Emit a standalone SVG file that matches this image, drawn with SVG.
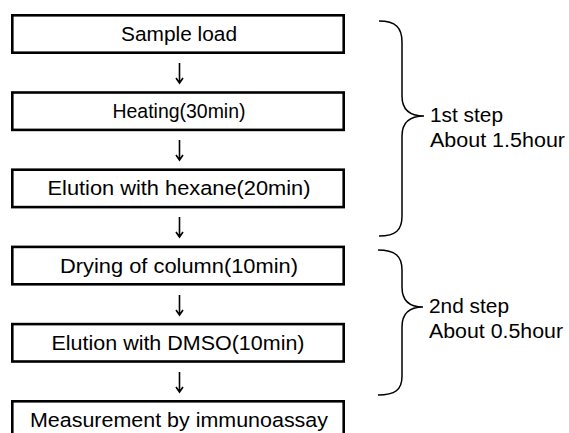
<svg xmlns="http://www.w3.org/2000/svg" width="569" height="433" viewBox="0 0 569 433">
<style>
.box{fill:#fff;stroke:#000;stroke-width:2.6}
.t{font-family:"Liberation Sans",Arial,sans-serif;font-size:20.5px;fill:#000}
.c{text-anchor:middle}
.arr{stroke:#000;stroke-width:1.6;fill:none}
.br{stroke:#000;stroke-width:1.5;fill:none}
</style>
<rect width="569" height="433" fill="#fff"/>
<g id="connectors">
<g class="arr">
<path d="M179.5,63 V82 M176,78 L179.5,83 L183,78"/>
<path d="M179.5,140 V159 M176,155 L179.5,160 L183,155"/>
<path d="M179.5,217 V236 M176,232 L179.5,237 L183,232"/>
<path d="M179.5,295 V314 M176,310 L179.5,315 L183,310"/>
<path d="M179.5,372 V391 M176,387 L179.5,392 L183,387"/>
</g>
</g>
<g id="n1"><rect class="box" x="12.3" y="15.3" width="331.4" height="37.4"/><text class="t c" x="179" y="41" textLength="116" lengthAdjust="spacingAndGlyphs">Sample load</text></g>
<g id="n2"><rect class="box" x="12.3" y="92.5" width="331.4" height="37.4"/><text class="t c" x="179" y="118.2" textLength="133" lengthAdjust="spacingAndGlyphs">Heating(30min)</text></g>
<g id="n3"><rect class="box" x="12.3" y="169.7" width="331.4" height="37.4"/><text class="t c" x="179" y="195.4" textLength="263" lengthAdjust="spacingAndGlyphs">Elution with hexane(20min)</text></g>
<g id="n4"><rect class="box" x="12.3" y="246.9" width="331.4" height="37.4"/><text class="t c" x="179" y="272.6" textLength="238" lengthAdjust="spacingAndGlyphs">Drying of column(10min)</text></g>
<g id="n5"><rect class="box" x="12.3" y="324.1" width="331.4" height="37.4"/><text class="t c" x="178" y="349.8" textLength="253" lengthAdjust="spacingAndGlyphs">Elution with DMSO(10min)</text></g>
<g id="n6"><rect class="box" x="12.3" y="401.3" width="331.4" height="37.4"/><text class="t c" x="179" y="427" textLength="298" lengthAdjust="spacingAndGlyphs">Measurement by immunoassay</text></g>
<g id="step1">
<path class="br" d="M379,21 C396,21 402,28 402,42 V96 C402,110 410,116 424,116 C410,116 402,122 402,136 V216 C402,230 396,236 379,236"/>
<text class="t" x="430" y="122" textLength="73" lengthAdjust="spacingAndGlyphs">1st step</text>
<text class="t" x="430" y="147" textLength="135" lengthAdjust="spacingAndGlyphs">About 1.5hour</text>
</g>
<g id="step2">
<path class="br" d="M378,250 C395,250 402,256 402,270 V287 C402,301 409,307 423,307 C409,307 402,313 402,327 V376 C402,390 395,395 378,395"/>
<text class="t" x="429" y="313" textLength="80" lengthAdjust="spacingAndGlyphs">2nd step</text>
<text class="t" x="429" y="338" textLength="134" lengthAdjust="spacingAndGlyphs">About 0.5hour</text>
</g>
</svg>
